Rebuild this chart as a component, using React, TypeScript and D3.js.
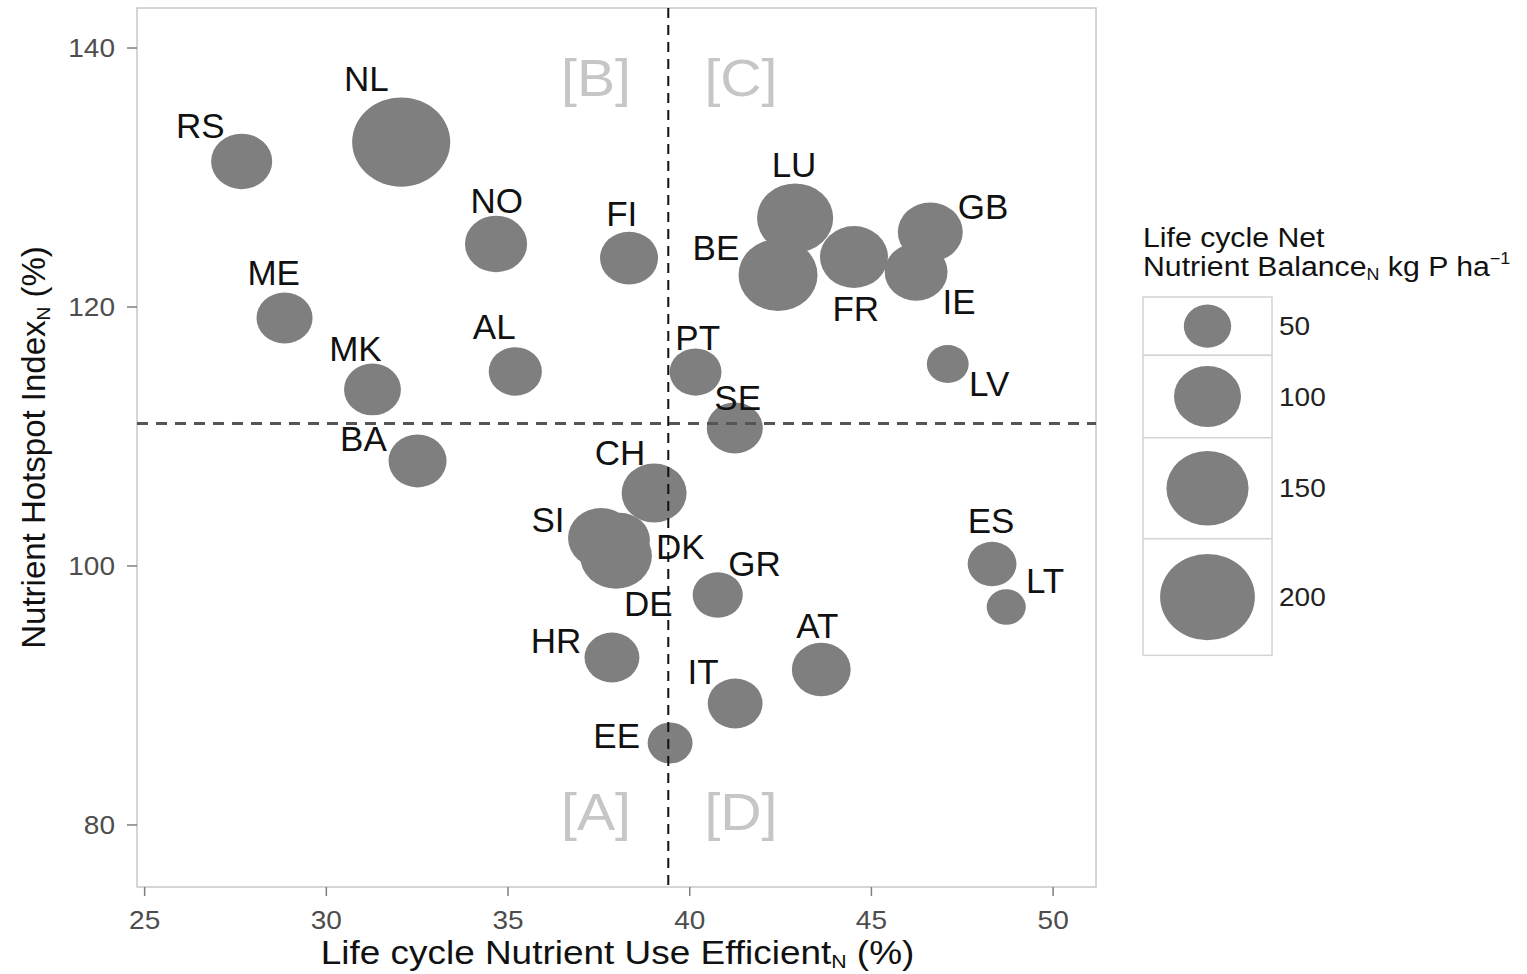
import React from 'react';
import * as d3 from 'd3';

const countries = ['RS','NL','NO','FI','ME','MK','AL','BA','LU','BE','FR','GB','IE','LV','PT','SE','CH','SI','DK','DE','GR','HR','AT','IT','EE','ES','LT'];
const efficiency = [27.67,32.06,34.67,38.33,28.85,31.27,35.20,32.51,42.90,42.43,44.52,46.62,46.23,47.10,40.16,41.24,39.02,37.56,38.08,37.97,40.77,37.86,43.62,41.25,39.46,48.32,48.71];
const hotspot = [131.24,132.74,124.87,123.78,119.15,113.63,115.02,108.11,126.87,122.47,123.86,125.79,122.70,115.60,114.98,110.66,105.64,102.16,102.0,100.77,97.76,92.93,92.01,89.38,86.33,100.15,96.83];
const balance = [83,214,86,75,70,72,63,75,129,139,103,94,88,39,60,70,94,97,80,115,56,67,77,67,45,53,34];
const labelX = [26.53,31.10,34.69,38.13,28.55,30.80,34.62,31.02,42.87,40.72,44.57,48.07,47.41,48.24,40.22,41.32,38.08,36.10,39.74,38.86,41.78,36.32,43.51,40.37,37.99,48.29,49.78];
const labelY = [134.05,137.68,128.26,127.26,122.63,116.83,118.46,109.81,130.97,124.56,119.85,127.80,120.46,114.13,117.61,113.05,108.80,103.63,101.47,97.14,100.23,94.21,95.44,91.89,86.95,103.55,98.92];

const xTicks = [25,30,35,40,45,50];
const yTicks = [80,100,120,140];
const legendValues = [50,100,150,200];
const quadrantLabels = ['[A]','[B]','[C]','[D]'];
const quadrantX = [37.42,37.42,41.41,41.41];
const quadrantY = [81.08,137.7,137.7,81.08];
const vLine = 39.41;
const hLine = 111.0;

const FONT = '"Liberation Sans", Arial, Helvetica, sans-serif';

function SText(props: { x: number; y: number; sx?: number; children: React.ReactNode; [k: string]: any }) {
  const { x, y, sx = 1.12, children, ...rest } = props;
  return (
    <text transform={`translate(${x},${y}) scale(${sx},1)`} x={0} y={0} {...rest}>{children}</text>
  );
}

export default function App() {
  const W = 1527, H = 974;
  const pL = 137, pR = 1096, pT = 8, pB = 887;
  const x = d3.scaleLinear().domain([24.79, 51.18]).range([pL, pR]);
  const y = d3.scaleLinear().domain([75.21, 143.09]).range([pB, pT]);
  const r = d3.scaleSqrt().domain([0, 200]).range([0, 47.4]);
  const ry = (v: number) => r(v) * 0.91;
  const fill = '#7f7f7f';
  const labelFs = 35;

  const legX = 1143, legW = 129;
  let cursor = 297;
  const keys = legendValues.map((v) => {
    const h = Math.max(58, 2 * r(v) * 1.23);
    const k = { v, top: cursor, h };
    cursor += h;
    return k;
  });

  return (
    <svg width={W} height={H} style={{ position: 'absolute', left: 0, top: 0, background: '#fff' }} fontFamily={FONT}>
      <rect x={0} y={0} width={W} height={H} fill="#fff" />
      <rect x={pL} y={pT} width={pR - pL} height={pB - pT} fill="#fff" stroke="#c8c8c8" strokeWidth={1.5} />
      {quadrantLabels.map((t, i) => (
        <SText key={t} x={x(quadrantX[i])} y={y(quadrantY[i]) + 52 * 0.716 / 2} sx={1.1} fontSize={52} fill="#c6c6c6" textAnchor="middle">{t}</SText>
      ))}
      {countries.map((c, i) => (
        <ellipse key={c} cx={x(efficiency[i])} cy={y(hotspot[i])} rx={r(balance[i])} ry={ry(balance[i])} fill={fill} />
      ))}
      {countries.map((c, i) => (
        <text key={'l' + c} x={x(labelX[i])} y={y(labelY[i]) + labelFs * 0.716 / 2} fontSize={labelFs} fill="#111" textAnchor="middle">{c}</text>
      ))}
      <line x1={x(vLine)} x2={x(vLine)} y1={pT} y2={pB} stroke="#111" strokeWidth={2} strokeDasharray="10,7" />
      <line x1={pL} x2={pR} y1={y(hLine)} y2={y(hLine)} stroke="#555" strokeWidth={3} strokeDasharray="11,8" />
      {xTicks.map((t) => (
        <g key={'x' + t}>
          <line x1={x(t)} x2={x(t)} y1={pB} y2={pB + 9} stroke="#7f7f7f" strokeWidth={1.5} />
          <SText x={x(t)} y={929} fontSize={25} fill="#4d4d4d" textAnchor="middle">{t}</SText>
        </g>
      ))}
      {yTicks.map((t) => (
        <g key={'y' + t}>
          <line x1={pL - 10} x2={pL} y1={y(t)} y2={y(t)} stroke="#7f7f7f" strokeWidth={1.5} />
          <SText x={115} y={y(t) + 9} fontSize={25} fill="#4d4d4d" textAnchor="end">{t}</SText>
        </g>
      ))}
      <SText x={(pL + pR) / 2 + 1} y={964} fontSize={33} fill="#111" textAnchor="middle">
        Life cycle Nutrient Use Efficient<tspan fontSize={19} dy={4}>N</tspan><tspan dy={-4}> (%)</tspan>
      </SText>
      <text transform={`translate(45,${(pT + pB) / 2}) rotate(-90)`} fontSize={33} fill="#111" textAnchor="middle">
        Nutrient Hotspot Index<tspan fontSize={19} dy={5}>N</tspan><tspan dy={-5}> (%)</tspan>
      </text>
      <SText x={legX} y={247} fontSize={27} fill="#111">Life cycle Net</SText>
      <SText x={legX} y={276} fontSize={27} fill="#111">
        Nutrient Balance<tspan fontSize={16} dy={4}>N</tspan><tspan dy={-4}> kg P ha</tspan><tspan fontSize={16} dy={-12}>−1</tspan>
      </SText>
      {keys.map((k) => (
        <g key={'k' + k.v}>
          <rect x={legX} y={k.top} width={legW} height={k.h} fill="#fff" stroke="#d4d4d4" strokeWidth={1.5} />
          <ellipse cx={legX + legW / 2} cy={k.top + k.h / 2} rx={r(k.v)} ry={ry(k.v)} fill={fill} />
          <SText x={1279} y={k.top + k.h / 2 + 9} fontSize={25} fill="#222">{k.v}</SText>
        </g>
      ))}
    </svg>
  );
}
